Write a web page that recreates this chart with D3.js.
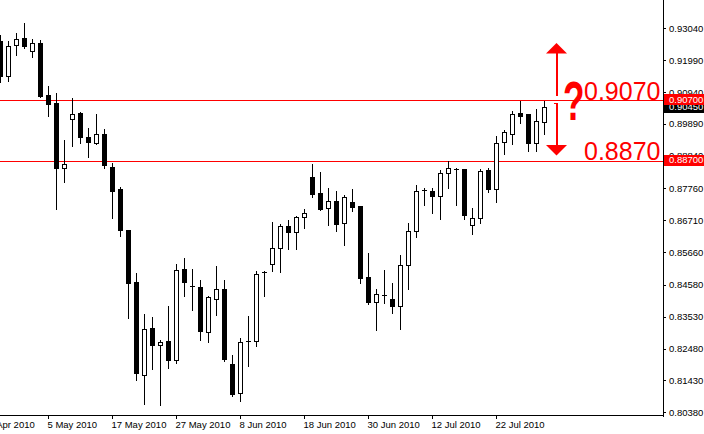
<!DOCTYPE html>
<html><head><meta charset="utf-8">
<script src="https://cdn.jsdelivr.net/npm/d3@7"></script>
<style>html,body{margin:0;padding:0;background:#fff;overflow:hidden}svg{display:block}</style>
</head><body><svg id="c" width="704" height="434"></svg>
<script>
const dates = ["27 Apr 2010","28 Apr 2010","29 Apr 2010","30 Apr 2010","3 May 2010","4 May 2010","5 May 2010","6 May 2010","7 May 2010","10 May 2010",
"11 May 2010","12 May 2010","13 May 2010","14 May 2010","17 May 2010","18 May 2010","19 May 2010","20 May 2010","21 May 2010","24 May 2010",
"25 May 2010","26 May 2010","27 May 2010","28 May 2010","31 May 2010","1 Jun 2010","2 Jun 2010","3 Jun 2010","4 Jun 2010","7 Jun 2010",
"8 Jun 2010","9 Jun 2010","10 Jun 2010","11 Jun 2010","14 Jun 2010","15 Jun 2010","16 Jun 2010","17 Jun 2010","18 Jun 2010","21 Jun 2010",
"22 Jun 2010","23 Jun 2010","24 Jun 2010","25 Jun 2010","28 Jun 2010","29 Jun 2010","30 Jun 2010","1 Jul 2010","2 Jul 2010","5 Jul 2010",
"6 Jul 2010","7 Jul 2010","8 Jul 2010","9 Jul 2010","12 Jul 2010","13 Jul 2010","14 Jul 2010","15 Jul 2010","16 Jul 2010","19 Jul 2010",
"20 Jul 2010","21 Jul 2010","22 Jul 2010","23 Jul 2010","26 Jul 2010","27 Jul 2010","28 Jul 2010","29 Jul 2010","30 Jul 2010"];

const open = [0.9261,0.9147,0.9250,0.9273,0.9230,0.9254,0.9083,0.9057,0.8845,0.9006,
0.9024,0.8947,0.8927,0.8955,0.8846,0.8773,0.8638,0.8467,0.8162,0.8315,
0.8261,0.8272,0.8209,0.8509,0.8456,0.8450,0.8304,0.8413,0.8443,0.8196,
0.8100,0.8270,0.8274,0.8497,0.8526,0.8581,0.8651,0.8634,0.8683,0.8813,
0.8760,0.8713,0.8734,0.8663,0.8730,0.8717,0.8483,0.8402,0.8424,0.8413,
0.8390,0.8522,0.8637,0.8768,0.8769,0.8751,0.8828,0.8838,0.8839,0.8657,
0.8677,0.8836,0.8774,0.8929,0.8954,0.9024,0.9020,0.8927,0.8996];

const high = [0.9282,0.9261,0.9287,0.9320,0.9270,0.9267,0.9113,0.9090,0.8935,0.9073,
0.9028,0.8974,0.9020,0.8971,0.8859,0.8782,0.8640,0.8496,0.8361,0.8353,
0.8276,0.8387,0.8526,0.8546,0.8509,0.8473,0.8420,0.8519,0.8473,0.8226,
0.8282,0.8354,0.8505,0.8505,0.8664,0.8659,0.8671,0.8684,0.8707,0.8856,
0.8829,0.8777,0.8767,0.8753,0.8773,0.8718,0.8562,0.8443,0.8506,0.8463,
0.8555,0.8661,0.8787,0.8776,0.8777,0.8836,0.8865,0.8845,0.8841,0.8713,
0.8840,0.8843,0.8949,0.8968,0.9030,0.9063,0.9021,0.9037,0.9063];

const low = [0.9127,0.9130,0.9215,0.9239,0.9208,0.9076,0.9014,0.8707,0.8797,0.8916,
0.8927,0.8880,0.8923,0.8843,0.8679,0.8619,0.8349,0.8144,0.8065,0.8181,
0.8062,0.8184,0.8199,0.8421,0.8375,0.8275,0.8270,0.8359,0.8207,0.8092,
0.8075,0.8191,0.8257,0.8421,0.8504,0.8501,0.8575,0.8575,0.8646,0.8748,
0.8704,0.8656,0.8636,0.8589,0.8702,0.8464,0.8395,0.8309,0.8398,0.8365,
0.8314,0.8446,0.8616,0.8720,0.8695,0.8674,0.8778,0.8720,0.8674,0.8626,
0.8662,0.8764,0.8731,0.8891,0.8924,0.8992,0.8899,0.8899,0.8956];

const close = [0.9147,0.9247,0.9270,0.9246,0.9254,0.9080,0.9054,0.8843,0.8858,0.9021,
0.8946,0.8929,0.8955,0.8852,0.8768,0.8639,0.8464,0.8168,0.8312,0.8260,
0.8271,0.8210,0.8508,0.8468,0.8453,0.8306,0.8417,0.8443,0.8213,0.8097,
0.8271,0.8273,0.8495,0.8499,0.8581,0.8651,0.8632,0.8681,0.8694,0.8758,
0.8707,0.8733,0.8659,0.8747,0.8715,0.8481,0.8401,0.8429,0.8426,0.8388,
0.8522,0.8637,0.8769,0.8770,0.8751,0.8828,0.8845,0.8840,0.8687,0.8680,
0.8833,0.8774,0.8927,0.8963,0.9020,0.9016,0.8927,0.9000,0.9045];

const yTickValues = [0.93040,0.91990,0.90940,0.89890,0.88840,0.87760,0.86710,0.85660,0.84580,0.83530,0.82480,0.81430,0.80380];
const xTickLabels = ["23 Apr 2010","5 May 2010","17 May 2010","27 May 2010","8 Jun 2010","18 Jun 2010","30 Jun 2010","12 Jul 2010","22 Jul 2010"];
const xTickBars = [-2,6,14,22,30,38,46,54,62];
const levelValues = [0.9070, 0.8870];
const levelLabels = ["0.9070", "0.8870"];
const lastPrice = 0.9045;

const FONT = "'Liberation Sans', Arial, sans-serif";
const svg = d3.select("#c");
const plotRight = 663, plotBottom = 415;

const x = d3.scaleLinear().domain([0, dates.length - 1]).range([0, 8 * (dates.length - 1)]);
const y = d3.scaleLinear().domain([0.80380, 0.93040]).range([412.3, 28.3]);

const g = svg.append("g").attr("shape-rendering", "crispEdges");

// level lines
levelValues.forEach(v => {
  const yy = Math.round(y(v)) + 1;
  g.append("rect").attr("x", 0).attr("width", plotRight).attr("y", yy).attr("height", 1)
    .attr("fill", "#ff0000");
});

// candles
const data = dates.map((d, i) => ({d, i, o: open[i], h: high[i], l: low[i], c: close[i]}));
const cg = g.append("g");
data.forEach(k => {
  const cx = Math.round(x(k.i));
  const yh = Math.round(y(k.h)), yl = Math.round(y(k.l));
  cg.append("rect").attr("x", cx).attr("y", yh).attr("width", 1).attr("height", Math.max(1, yl - yh + 1)).attr("fill", "#000");
  const yt = Math.round(y(Math.max(k.o, k.c))), yb = Math.round(y(Math.min(k.o, k.c)));
  if (yb - yt <= 1) {
    cg.append("rect").attr("x", cx - 2).attr("y", yt).attr("width", 5).attr("height", 1).attr("fill", "#000");
  } else if (k.c < k.o) {
    cg.append("rect").attr("x", cx - 2).attr("y", yt).attr("width", 5).attr("height", yb - yt + 1).attr("fill", "#000");
  } else {
    cg.append("rect").attr("x", cx - 1.5).attr("y", yt + 0.5).attr("width", 4).attr("height", yb - yt)
      .attr("fill", "#fff").attr("stroke", "#000").attr("stroke-width", 1);
  }
});

// frame
g.append("rect").attr("x", plotRight).attr("y", 0).attr("width", 1).attr("height", plotBottom + 2).attr("fill", "#000");
g.append("rect").attr("x", 0).attr("y", plotBottom).attr("width", plotRight + 1).attr("height", 1).attr("fill", "#000");

// y axis
const yAxis = d3.axisRight(y).tickValues(yTickValues).tickSize(3).tickPadding(3).tickFormat(d3.format(".5f"));
const ya = svg.append("g").attr("transform", `translate(${plotRight},0)`).call(yAxis);
ya.select(".domain").remove();
ya.selectAll("line").attr("stroke", "#000").attr("shape-rendering", "crispEdges");
ya.selectAll("text").attr("font-family", FONT).attr("font-size", "9.5px").attr("fill", "#000");

// x axis
const xAxis = d3.axisBottom(x).tickValues(xTickBars).tickSize(4).tickPadding(2).tickFormat((d, i) => xTickLabels[i]);
const xa = svg.append("g").attr("transform", `translate(0,${plotBottom})`).call(xAxis);
xa.select(".domain").remove();
xa.selectAll("line").attr("stroke", "#000").attr("shape-rendering", "crispEdges");
xa.selectAll("text").attr("font-family", FONT).attr("font-size", "9.5px").attr("fill", "#000")
  .attr("text-anchor", "start").attr("x", -1);

// price boxes on y axis
function priceBox(v, bg, txt) {
  const yy = y(v);
  const bx = svg.append("g");
  bx.append("rect").attr("x", plotRight + 1).attr("y", Math.round(yy) - 5).attr("width", 704 - plotRight - 1).attr("height", 11)
    .attr("fill", bg).attr("shape-rendering", "crispEdges");
  bx.append("text").attr("x", plotRight + 6).attr("y", yy).attr("dy", "0.35em")
    .attr("font-family", FONT).attr("font-size", "9.5px").attr("fill", "#fff").text(txt);
}
priceBox(lastPrice, "#000", d3.format(".5f")(lastPrice));
priceBox(levelValues[0], "#ff0000", d3.format(".5f")(levelValues[0]));
priceBox(levelValues[1], "#ff0000", d3.format(".5f")(levelValues[1]));

// annotations
const ax = 556.5;
const yUp = Math.round(y(levelValues[0]));
const yDn = Math.round(y(levelValues[1]));
const ann = svg.append("g").attr("fill", "#ff0000");
ann.append("rect").attr("x", ax - 1).attr("y", 53).attr("width", 2).attr("height", yUp - 3 - 53).attr("shape-rendering", "crispEdges");
ann.append("polygon").attr("points", `${ax},43 ${ax - 10.5},53.5 ${ax + 10.5},53.5`);
ann.append("rect").attr("x", ax - 1).attr("y", yUp + 4).attr("width", 2).attr("height", yDn - 15 - (yUp + 4)).attr("shape-rendering", "crispEdges");
ann.append("rect").attr("x", ax - 3).attr("y", yUp + 4).attr("width", 3).attr("height", 1).attr("shape-rendering", "crispEdges");
ann.append("polygon").attr("points", `${ax - 10.5},${yDn - 15} ${ax + 10.5},${yDn - 15} ${ax},${yDn - 4.5}`);

ann.append("text").attr("transform", "translate(563,120) scale(1.1,1.75)")
  .attr("font-family", FONT).attr("font-weight", "bold").attr("font-size", "32px").text("?");
ann.append("text").attr("x", 584).attr("y", Math.round(y(levelValues[0])) + 0.5)
  .attr("font-family", FONT).attr("font-size", "25px").text(levelLabels[0]);
ann.append("text").attr("x", 584).attr("y", Math.round(y(levelValues[1])) - 0.5)
  .attr("font-family", FONT).attr("font-size", "25px").text(levelLabels[1]);
</script></body></html>
